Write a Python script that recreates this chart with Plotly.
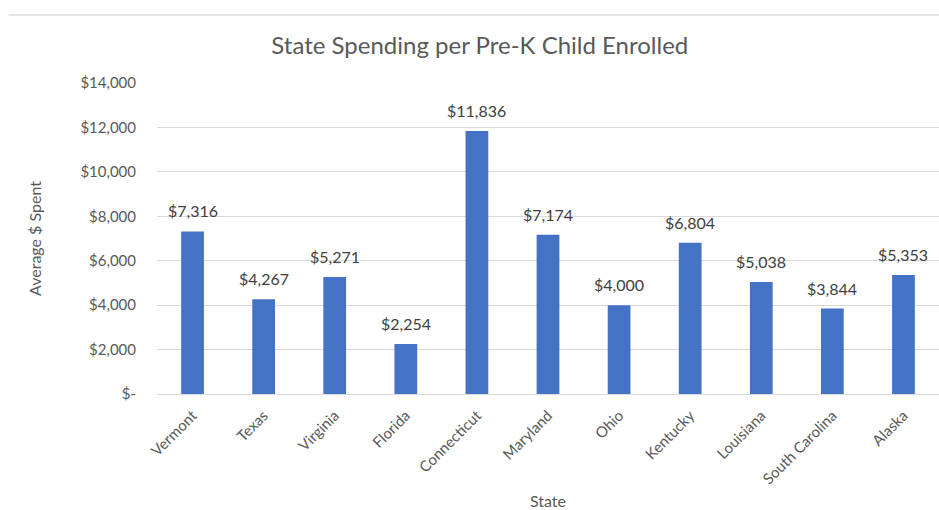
import plotly.graph_objects as go

states = ["Vermont", "Texas", "Virginia", "Florida", "Connecticut", "Maryland",
          "Ohio", "Kentucky", "Louisiana", "South Carolina", "Alaska"]
spending = [7316, 4267, 5271, 2254, 11836, 7174, 4000, 6804, 5038, 3844, 5353]
y_ticks = [0, 2000, 4000, 6000, 8000, 10000, 12000, 14000]
y_tick_labels = ["$-", "$2,000", "$4,000", "$6,000", "$8,000", "$10,000", "$12,000", "$14,000"]

FONT = "Lato, 'Open Sans', sans-serif"
GREY = "#595959"

fig = go.Figure(
    go.Bar(
        x=states,
        y=spending,
        marker=dict(color="#4472C4", line=dict(width=0)),
        width=0.32,
        hoverinfo="x+y",
    )
)

# value labels sitting a little above each bar
for s, v in zip(states, spending):
    fig.add_annotation(
        x=s, y=v, text=f"${v:,}", showarrow=False,
        yanchor="bottom", yshift=9,
        font=dict(family=FONT, size=16, color="#404040"),
    )

fig.update_layout(
    width=939,
    height=510,
    margin=dict(l=157, r=0, t=83, b=116),
    paper_bgcolor="white",
    plot_bgcolor="white",
    showlegend=False,
    title=dict(
        text="State Spending per Pre-K Child Enrolled",
        font=dict(family=FONT, size=24, color=GREY),
        x=0.511, xref="container", xanchor="center",
        y=0.91, yref="container", yanchor="middle",
    ),
    font=dict(family=FONT, color=GREY),
)

fig.update_yaxes(
    range=[0, 14000],
    tickvals=y_ticks,
    ticktext=y_tick_labels,
    tickfont=dict(family=FONT, size=15, color=GREY),
    gridcolor="#d9d9d9",
    gridwidth=1,
    zeroline=False,
    showline=False,
    ticks="",
    automargin=False,
    ticklabelstandoff=20,
    title=dict(text="Average $ Spent", font=dict(family=FONT, size=16, color=GREY), standoff=34),
)

fig.update_xaxes(
    tickangle=-45,
    tickfont=dict(family=FONT, size=15, color=GREY),
    showline=True,
    linecolor="#d9d9d9",
    linewidth=1,
    ticks="",
    showgrid=False,
    automargin=False,
    ticklabelstandoff=6,
    title=dict(text="State", font=dict(family=FONT, size=16, color=GREY), standoff=18),
)

# thin rule along the top edge of the chart frame
fig.add_shape(
    type="line", xref="paper", yref="paper",
    x0=-0.19, x1=1.0, y0=1.219, y1=1.219,
    line=dict(color="#e6e6e6", width=2),
)

fig.write_html("out.html")
